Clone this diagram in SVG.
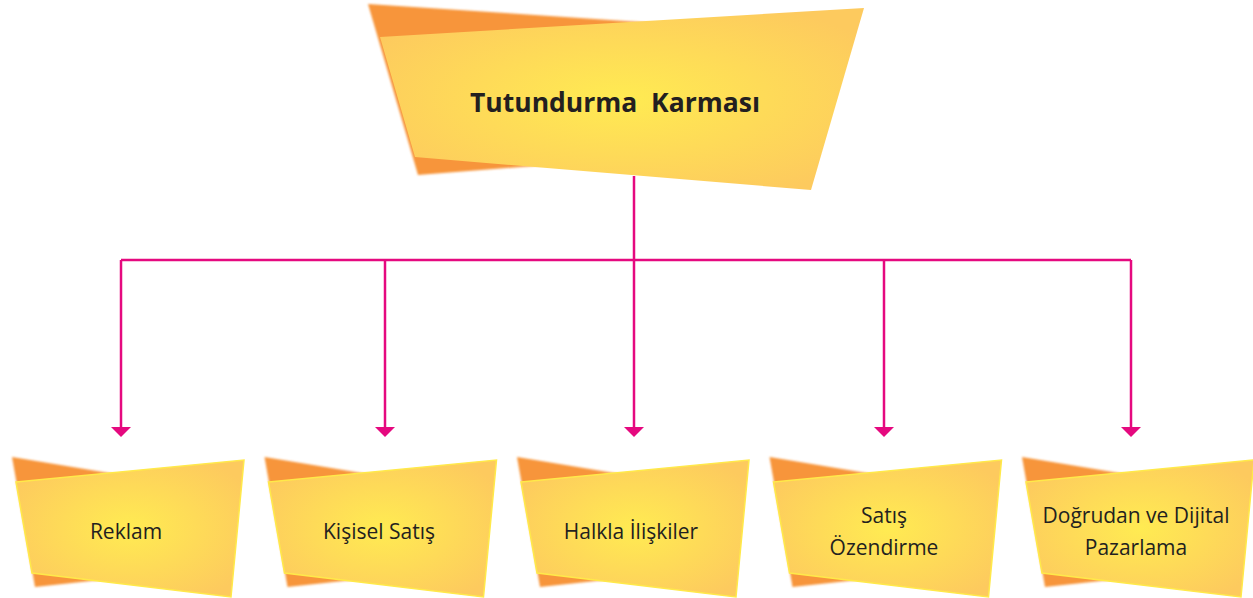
<svg xmlns="http://www.w3.org/2000/svg" width="1253" height="598" viewBox="0 0 1253 598">
<defs>
<radialGradient id="yg" cx="0.5" cy="0.5" r="0.6">
<stop offset="0" stop-color="#FFEB52"/>
<stop offset="1" stop-color="#FDCA5E"/>
</radialGradient>
<filter id="soft" x="-5%" y="-5%" width="110%" height="110%"><feGaussianBlur stdDeviation="0.8"/></filter>
<polygon id="ah" points="-10,427 10,427 0,437" fill="#E5097F"/>
<g id="box">
<polygon points="12,457 200,488 100,580 35,587" fill="#F7953A" filter="url(#soft)"/>
<polygon points="16,482 244,460 231,597 32,573" fill="url(#yg)" stroke="#FFE94A" stroke-width="1.5"/>
</g>
</defs>
<style>
.t{font-family:"Open Sans","Liberation Sans",sans-serif;fill:#231F20;text-anchor:middle}
.s{font-size:21px}
.c{fill:none;stroke:#E5097F;stroke-width:2.5}
</style>
<g id="top">
<polygon points="368,4 760,30 740,150 418,175" fill="#F7953A" filter="url(#soft)"/>
<polygon points="380,37 864,8 811,190 415,157" fill="url(#yg)"/>
<text class="t" x="615" y="112" font-size="26.5" font-weight="bold" style="white-space:pre" xml:space="preserve">Tutundurma  Karması</text>
</g>
<g id="connectors">
<path class="c" d="M634,176 V260"/>
<path class="c" d="M121,260 H1131"/>
<path class="c" d="M121,260 V428"/>
<path class="c" d="M385,260 V428"/>
<path class="c" d="M634,260 V428"/>
<path class="c" d="M884,260 V428"/>
<path class="c" d="M1131,260 V428"/>
<use href="#ah" x="121"/>
<use href="#ah" x="385"/>
<use href="#ah" x="634"/>
<use href="#ah" x="884"/>
<use href="#ah" x="1131"/>
</g>
<g id="n1"><use href="#box"/><text class="t s" x="126" y="539">Reklam</text></g>
<g id="n2"><use href="#box" transform="translate(252.5,0)"/><text class="t s" x="379" y="539">Kişisel Satış</text></g>
<g id="n3"><use href="#box" transform="translate(505,0)"/><text class="t s" x="631" y="539">Halkla İlişkiler</text></g>
<g id="n4"><use href="#box" transform="translate(757.5,0)"/><text class="t s" x="884" y="523">Satış</text><text class="t s" x="884" y="555">Özendirme</text></g>
<g id="n5"><use href="#box" transform="translate(1010,0)"/><text class="t s" x="1136" y="523">Doğrudan ve Dijital</text><text class="t s" x="1136" y="555">Pazarlama</text></g>
</svg>
